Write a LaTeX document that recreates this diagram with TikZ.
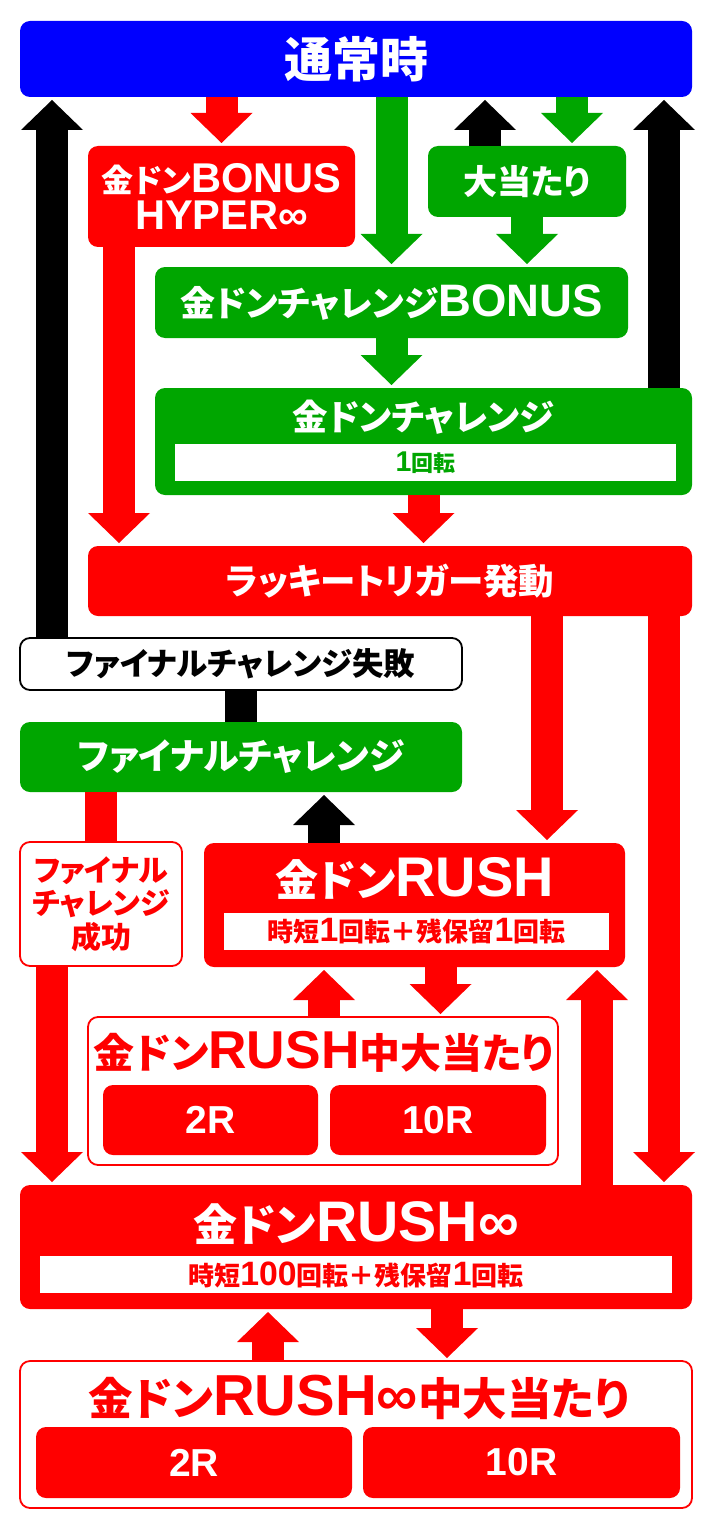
\documentclass[tikz,border=0pt]{standalone}
\usepackage{fontspec}
\setmainfont{Noto Sans CJK JP}[RawFeature=+palt]
\newfontfamily\latfont{Liberation Sans}[Scale=1.3]
\usetikzlibrary{arrows.meta}

\newcommand\lt[1]{{\latfont #1}}
\newcommand\fsz[1]{\fontsize{#1}{1.12\dimexpr#1pt\relax}\selectfont}

\begin{document}
\begin{tikzpicture}[x=1pt,y=-1pt]
        \definecolor{flowblue}{HTML}{0000FF}
        \definecolor{flowred}{HTML}{FF0000}
        \definecolor{flowgreen}{HTML}{00A600}
        \tikzset{
            box/.style={rectangle,rounded corners=10pt,inner sep=0pt,outer sep=0pt,align=center,font=\bfseries},
            bluebox/.style={box,fill=flowblue,text=white},
            redbox/.style={box,fill=flowred,text=white},
            greenbox/.style={box,fill=flowgreen,text=white},
            redframe/.style={box,fill=white,draw=flowred,line width=1.8pt,text=flowred},
            blackframe/.style={box,fill=white,draw=black,line width=1.8pt,text=black},
            subbox/.style={rectangle,fill=white,inner sep=0pt,outer sep=0pt,font=\bfseries},
            title/.style={inner sep=0pt,align=center,font=\bfseries},
            flow/.style={line width=32pt,shorten >=3pt,-{Triangle[length=30pt,width=62pt,line width=0pt]}},
            bar/.style={line width=32pt}
        }
        \useasboundingbox (0,0) rectangle (712,1530);
        % boxes
        \node[bluebox,minimum width=672pt,minimum height=76pt,font=\bfseries\fsz{48}] (normal) at (356,59) {通常時};
        \node[redbox,minimum width=267pt,minimum height=101pt,font=\bfseries\fontsize{32}{37}\selectfont] (hyper) at (221.5,196.5) {金ドン\lt{BONUS}\\\lt{HYPER∞}};
        \node[greenbox,minimum width=198pt,minimum height=71pt,font=\bfseries\fsz{34}] (atari) at (527,181.5) {大当たり};
        \node[greenbox,minimum width=473pt,minimum height=71pt,font=\bfseries\fsz{35}] (bonus) at (391.5,302.5) {金ドンチャレンジ\lt{BONUS}};
        \node[greenbox,minimum width=537pt,minimum height=107pt] (chall) at (423.5,441.5) {};
        \node[title,text=white,font=\bfseries\fsz{35.5}] (challtxt) at (423.5,417) {金ドンチャレンジ};
        \node[subbox,minimum width=501pt,minimum height=37pt,text=flowgreen,font=\bfseries\fsz{22}] (challspin) at (425.5,462.5) {\lt{1}回転};
        \node[redbox,minimum width=604pt,minimum height=70pt,font=\bfseries\fsz{35.5}] (lucky) at (390,581) {ラッキートリガー発動};
        \node[blackframe,minimum width=442pt,minimum height=52pt,font=\bfseries\fsz{31.5}] (fail) at (241,664) {ファイナルチャレンジ失敗};
        \node[greenbox,minimum width=442pt,minimum height=70pt,font=\bfseries\fsz{36}] (fc) at (241,757) {ファイナルチャレンジ};
        \node[redframe,minimum width=162pt,minimum height=124pt,font=\bfseries\fontsize{30}{33.5}\selectfont] (success) at (101,904) {ファイナル\\チャレンジ\\成功};
        \node[redbox,minimum width=421pt,minimum height=124pt] (rush) at (414.5,905) {};
        \node[title,text=white,font=\bfseries\fsz{43}] (rushtxt) at (414.5,878) {金ドン\lt{RUSH}};
        \node[subbox,minimum width=385pt,minimum height=37pt,text=flowred,font=\bfseries\fsz{26}] (rushspin) at (416.5,931.5) {時短\lt{1}回転＋残保留\lt{1}回転};
        \node[redframe,minimum width=470pt,minimum height=148pt] (rushhit) at (323,1091) {};
        \node[title,text=flowred,font=\bfseries\fsz{41}] (rushhittxt) at (324,1052) {金ドン\lt{RUSH}中大当たり};
        \node[redbox,minimum width=215pt,minimum height=70pt,font=\bfseries\fsz{30}] (rushhitA) at (210.5,1120) {\lt{2R}};
        \node[redbox,minimum width=216pt,minimum height=70pt,font=\bfseries\fsz{30}] (rushhitB) at (438,1120) {\lt{10R}};
        \node[redbox,minimum width=672pt,minimum height=124pt] (inf) at (356,1247) {};
        \node[title,text=white,font=\bfseries\fsz{44}] (inftxt) at (356,1223) {金ドン\lt{RUSH∞}};
        \node[subbox,minimum width=632pt,minimum height=37pt,text=flowred,font=\bfseries\fsz{26}] (infspin) at (356,1274.5) {時短\lt{100}回転＋残保留\lt{1}回転};
        \node[redframe,minimum width=672pt,minimum height=147pt] (infhit) at (356,1434.5) {};
        \node[title,text=flowred,font=\bfseries\fsz{44.5}] (infhittxt) at (359,1397) {金ドン\lt{RUSH∞}中大当たり};
        \node[redbox,minimum width=316pt,minimum height=71pt,font=\bfseries\fsz{30}] (infhitA) at (194,1462.5) {\lt{2R}};
        \node[redbox,minimum width=317pt,minimum height=71pt,font=\bfseries\fsz{30}] (infhitB) at (521.5,1462.5) {\lt{10R}};
        % arrows
        \draw[flow,draw=black] ([xshift=32pt]fail.north west) -- ([xshift=32pt]normal.south west);
        \draw[flow,draw=flowred] (normal.south -| hyper.north) -- (hyper.north);
        \draw[flow,draw=flowgreen] (normal.south -| bonus.north) -- (bonus.north);
        \draw[flow,draw=black] ([xshift=57pt]atari.north west) -- ([xshift=57pt]atari.north west |- normal.south);
        \draw[flow,draw=flowgreen] ([xshift=45pt]atari.north |- normal.south) -- ([xshift=45pt]atari.north);
        \draw[flow,draw=black] ([xshift=-28pt]chall.north east) -- ([xshift=-28pt]chall.north east |- normal.south);
        \draw[flow,draw=flowgreen] (atari.south) -- (atari.south |- bonus.north);
        \draw[flow,draw=flowgreen] (bonus.south) -- (bonus.south |- chall.north);
        \draw[flow,draw=flowred] ([xshift=31pt]hyper.south west) -- ([xshift=31pt]hyper.south west |- lucky.north);
        \draw[flow,draw=flowred] (chall.south) -- (chall.south |- lucky.north);
        \draw[flow,draw=flowred] ([xshift=-78pt]rush.north east |- lucky.south) -- ([xshift=-78pt]rush.north east);
        \draw[flow,draw=flowred] ([xshift=-28pt]lucky.south east) -- ([xshift=-28pt]lucky.south east |- inf.north);
        \draw[bar,draw=black] (fc.north) -- (fail.south);
        \draw[bar,draw=flowred] (fc.south -| success.north) -- (success.north);
        \draw[flow,draw=black] ([xshift=120pt]rush.north west) -- ([xshift=120pt]rush.north west |- fc.south);
        \draw[flow,draw=flowred] ([xshift=32pt]success.south west) -- ([xshift=32pt]success.south west |- inf.north);
        \draw[flow,draw=flowred] ([xshift=120pt]rush.south west |- rushhit.north) -- ([xshift=120pt]rush.south west);
        \draw[flow,draw=flowred] ([xshift=26pt]rush.south) -- ([xshift=26pt]rush.south |- rushhit.north);
        \draw[flow,draw=flowred] ([xshift=-28pt]rush.south east |- inf.north) -- ([xshift=-28pt]rush.south east);
        \draw[flow,draw=flowred] ([xshift=-88pt]inf.south |- infhit.north) -- ([xshift=-88pt]inf.south);
        \draw[flow,draw=flowred] ([xshift=91pt]inf.south) -- ([xshift=91pt]inf.south |- infhit.north);
    \end{tikzpicture}
\end{document}
